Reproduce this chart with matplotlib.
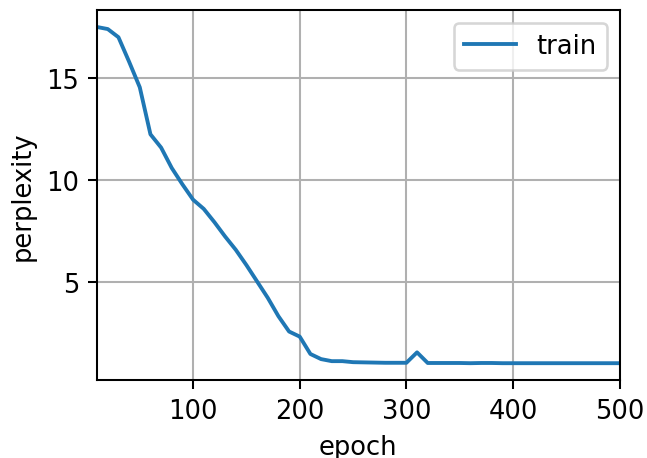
import matplotlib
matplotlib.use('Agg')
import matplotlib.pyplot as plt

# perplexity recorded every 10 epochs
epochs = list(range(10, 510, 10))
perplexity = [17.5, 17.4, 17.0, 15.8, 14.55, 12.25, 11.6, 10.6, 9.8, 9.05,
              8.6, 7.95, 7.25, 6.6, 5.85, 5.05, 4.25, 3.35, 2.6, 2.35,
              1.5, 1.25, 1.15, 1.15, 1.1, 1.09, 1.08, 1.07, 1.07, 1.07,
              1.58, 1.06, 1.06, 1.06, 1.06, 1.05, 1.06, 1.06, 1.05, 1.05,
              1.05, 1.05, 1.05, 1.05, 1.05, 1.05, 1.05, 1.05, 1.05, 1.05]

fig = plt.figure(figsize=(3.5, 2.48), dpi=185)
ax = fig.add_axes([0.150, 0.170, 0.807, 0.806])
ax.plot(epochs, perplexity, color='#1f77b4', lw=1.5, label='train')
ax.set_xlim(10, 500)
ax.set_xlabel('epoch')
ax.set_ylabel('perplexity')
ax.grid(True)
ax.legend(loc='upper right')

plt.savefig('out.png', dpi=185)
plt.close('all')
